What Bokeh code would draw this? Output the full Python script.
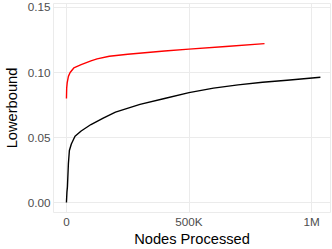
from bokeh.plotting import figure
from bokeh.models import FixedTicker, NumeralTickFormatter, Range1d
from bokeh.embed import file_html
from bokeh.resources import INLINE

# ---- data ----
red_x = [0, 1000, 3000, 8000, 15000, 30000, 60000, 100000, 125000, 175000,
         250000, 400000, 500000, 650000, 808000]
red_y = [0.080, 0.088, 0.092, 0.097, 0.100, 0.1035, 0.106, 0.109, 0.1105, 0.1125,
         0.114, 0.1165, 0.118, 0.120, 0.1222]

black_x = [0, 2000, 4000, 8000, 12000, 20000, 35000, 60000, 100000, 150000,
           200000, 300000, 400000, 500000, 600000, 700000, 800000, 900000, 1036000]
black_y = [0.000, 0.008, 0.012, 0.030, 0.040, 0.045, 0.051, 0.055, 0.060, 0.065,
           0.0695, 0.0755, 0.080, 0.0845, 0.088, 0.0905, 0.0925, 0.094, 0.0963]

x_ticks = [0, 500000, 1000000]
x_tick_labels = ["0", "500K", "1M"]
y_ticks = [0.0, 0.05, 0.10, 0.15]

x_title = "Nodes Processed"
y_title = "Lowerbound"

FONT = "Liberation Sans"
GRID = "#EBEBEB"

p = figure(width=332, height=249, output_backend="svg", toolbar_location=None,
           x_range=Range1d(-52800, 1077200), y_range=Range1d(-0.00765, 0.15306),
           min_border_left=52, min_border_right=2, min_border_top=3, min_border_bottom=0)

p.background_fill_color = "white"
p.border_fill_color = "white"
p.outline_line_color = GRID
p.outline_line_width = 1

for g in (p.xgrid, p.ygrid):
    g.grid_line_color = GRID
    g.grid_line_width = 1

p.xaxis.ticker = FixedTicker(ticks=x_ticks)
p.xaxis.major_label_overrides = {t: l for t, l in zip(x_ticks, x_tick_labels)}
p.yaxis.ticker = FixedTicker(ticks=y_ticks)
p.yaxis.formatter = NumeralTickFormatter(format="0.00")

for ax in (p.xaxis, p.yaxis):
    ax.axis_line_color = None
    ax.major_tick_line_color = None
    ax.minor_tick_line_color = None
    ax.major_tick_out = 0
    ax.major_tick_in = 0
    ax.minor_tick_out = 0
    ax.minor_tick_in = 0
    ax.major_label_text_font = FONT
    ax.major_label_text_font_size = "11.7px"
    ax.major_label_text_color = "#4D4D4D"
    ax.axis_label_text_font = FONT
    ax.axis_label_text_font_size = "14.67px"
    ax.axis_label_text_font_style = "normal"
    ax.axis_label_text_color = "black"

p.xaxis.axis_label = x_title
p.yaxis.axis_label = y_title
p.xaxis.major_label_standoff = 2
p.xaxis.axis_label_standoff = 0
p.yaxis.major_label_standoff = 3
p.yaxis.axis_label_standoff = 5

p.line(black_x, black_y, line_color="black", line_width=1.4, line_join="round")
p.line(red_x, red_y, line_color="#FF0000", line_width=1.4, line_join="round")

open("out.html", "w").write(file_html(p, INLINE))
